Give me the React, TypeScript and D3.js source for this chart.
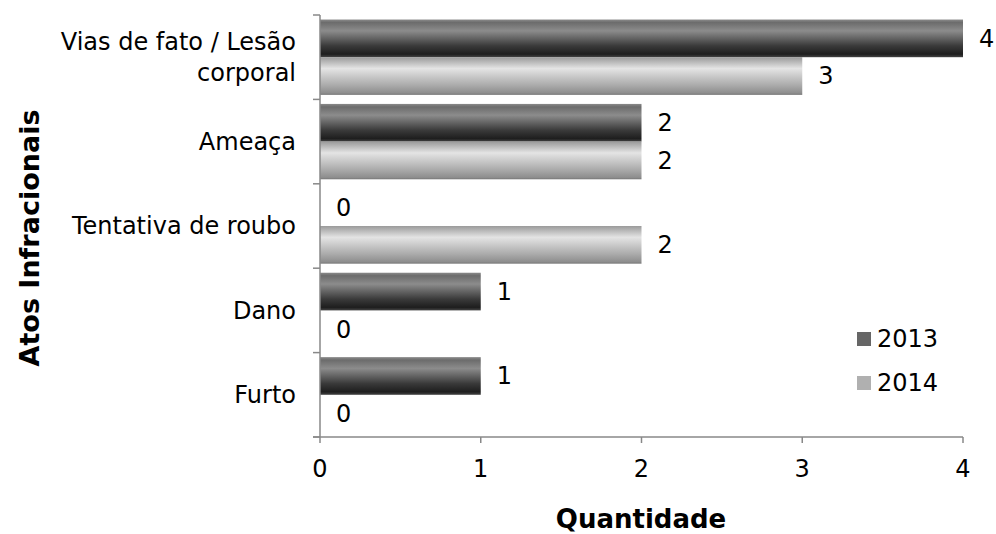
import React from 'react';
import * as d3 from 'd3';

const categories = ['Vias de fato / Lesão corporal', 'Ameaça', 'Tentativa de roubo', 'Dano', 'Furto'];
const categoryLines = [['Vias de fato / Lesão', 'corporal'], ['Ameaça'], ['Tentativa de roubo'], ['Dano'], ['Furto']];
const series = ['2013', '2014'];
const values2013 = [4, 2, 0, 1, 1];
const values2014 = [3, 2, 2, 0, 0];
const xTicks = [0, 1, 2, 3, 4];

const W = 996;
const H = 534;
const FONT = 'Verdana, "DejaVu Sans", sans-serif';

const App: React.FC = () => {
  const x = d3.scaleLinear().domain([0, 4]).range([320, 963]);
  const y = d3.scaleBand<string>().domain(categories).range([15, 437]);
  const inner = d3.scaleBand<string>().domain(series).range([0, y.bandwidth()]).paddingOuter(0.12).paddingInner(0);
  const vals: Record<string, number[]> = { '2013': values2013, '2014': values2014 };
  const fills: Record<string, string> = { '2013': 'url(#gDark)', '2014': 'url(#gLight)' };
  const legendColors: Record<string, string> = { '2013': '#666666', '2014': '#b0b0b0' };
  const boundaries = [...categories.map(c => y(c) as number), 437];

  return (
    <svg width={W} height={H} style={{ position: 'absolute', left: 0, top: 0, background: '#fff' }} fontFamily={FONT}>
      <defs>
        <linearGradient id="gDark" x1="0" y1="0" x2="0" y2="1">
          <stop offset="0" stopColor="#8a8a8a" />
          <stop offset="0.08" stopColor="#6c6c6c" />
          <stop offset="0.3" stopColor="#8c8c8c" />
          <stop offset="0.7" stopColor="#3a3a3a" />
          <stop offset="0.92" stopColor="#1e1e1e" />
          <stop offset="1" stopColor="#444" />
        </linearGradient>
        <linearGradient id="gLight" x1="0" y1="0" x2="0" y2="1">
          <stop offset="0" stopColor="#9a9a9a" />
          <stop offset="0.3" stopColor="#e4e4e4" />
          <stop offset="0.75" stopColor="#aaaaaa" />
          <stop offset="0.95" stopColor="#8e8e8e" />
          <stop offset="1" stopColor="#777" />
        </linearGradient>
      </defs>

      {/* bars */}
      {categories.map((c, i) => series.map(s => {
        const v = vals[s][i];
        const by = (y(c) as number) + (inner(s) as number);
        const bh = inner.bandwidth();
        return (
          <g key={c + s}>
            {v > 0 && <rect x={x(0)} y={by} width={x(v) - x(0)} height={bh} fill={fills[s]} />}
            <text x={x(v) + 16} y={by + bh / 2} dy="0.35em" fontSize={24} fill="#000">{v}</text>
          </g>
        );
      }))}

      {/* axes */}
      <line x1={320} x2={320} y1={15} y2={437} stroke="#888" strokeWidth={1.5} />
      <line x1={313} x2={963} y1={437} y2={437} stroke="#888" strokeWidth={1.5} />
      {boundaries.map((b, i) => (
        <line key={'yt' + i} x1={313} x2={320} y1={b} y2={b} stroke="#888" strokeWidth={1.5} />
      ))}
      {xTicks.map(t => (
        <g key={'xt' + t}>
          <line x1={x(t)} x2={x(t)} y1={437} y2={443} stroke="#888" strokeWidth={1.5} />
          <text x={x(t)} y={469} dy="0.35em" textAnchor="middle" fontSize={24}>{t}</text>
        </g>
      ))}

      {/* category labels */}
      {categories.map((c, i) => {
        const lines = categoryLines[i];
        const cy = (y(c) as number) + y.bandwidth() / 2;
        const lh = 31;
        return (
          <text key={'cl' + i} textAnchor="end" fontSize={24}>
            {lines.map((l, j) => (
              <tspan key={j} x={296} y={cy + (j - (lines.length - 1) / 2) * lh} dy="0.35em">{l}</tspan>
            ))}
          </text>
        );
      })}

      {/* axis titles */}
      <text transform="translate(30,238) rotate(-90)" textAnchor="middle" fontSize={27} fontWeight="bold" dy="0.35em">Atos Infracionais</text>
      <text x={641} y={519} textAnchor="middle" fontSize={26} fontWeight="bold" dy="0.35em">Quantidade</text>

      {/* legend */}
      {series.map((s, i) => (
        <g key={'lg' + s} transform={`translate(857, ${339 + i * 44})`}>
          <rect x={0} y={-7} width={14} height={14} fill={legendColors[s]} />
          <text x={20} y={0} dy="0.35em" fontSize={24}>{s}</text>
        </g>
      ))}
    </svg>
  );
};

export default App;
